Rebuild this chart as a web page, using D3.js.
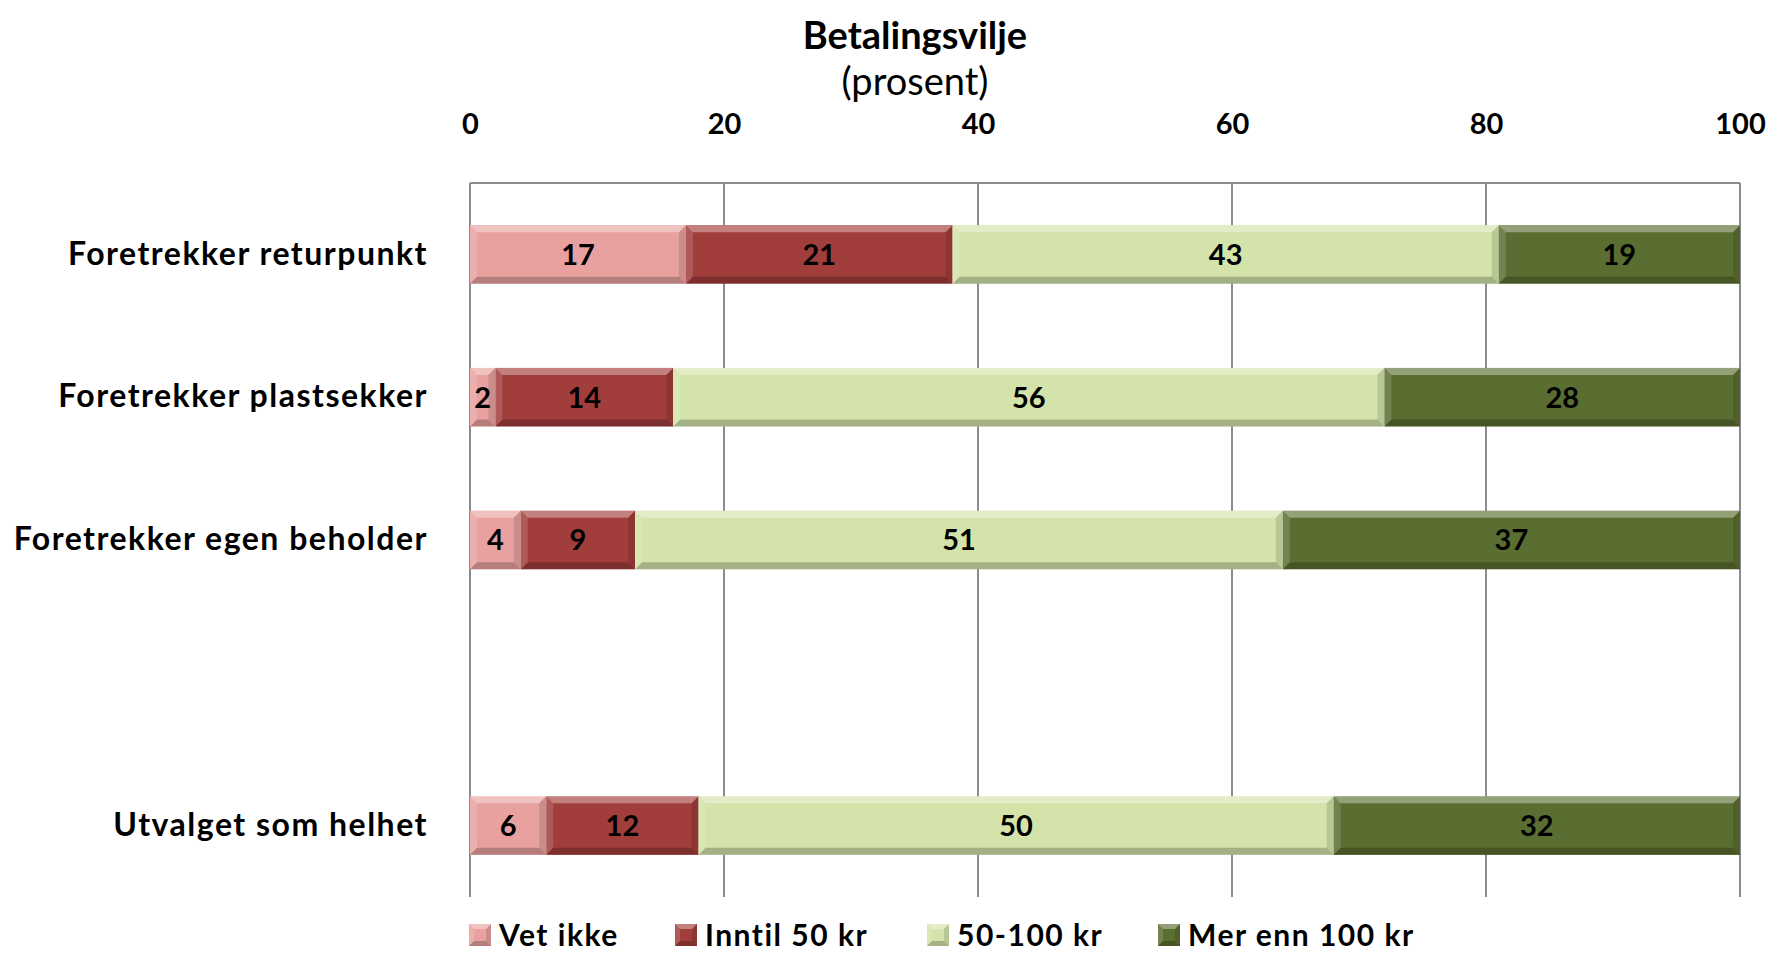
<!DOCTYPE html>
<html>
<head>
	<title>Betalingsvilje</title>
	<script src="https://d3js.org/d3.v7.min.js"></script>
	<style type="text/css">
		body { margin: 0; background: #fff; }
		text { font-family: Lato, "Open Sans", sans-serif; }
	</style>
</head>
<body>
<div id="chart"></div>
<script type="text/javascript">

	// data
	var categories = ["Foretrekker returpunkt", "Foretrekker plastsekker", "Foretrekker egen beholder", "", "Utvalget som helhet"];
	var seriesNames = ["Vet ikke", "Inntil 50 kr", "50-100 kr", "Mer enn 100 kr"];
	var vetIkke = [17, 2, 4, null, 6];
	var inntil50 = [21, 14, 9, null, 12];
	var fra50til100 = [43, 56, 51, null, 50];
	var merEnn100 = [19, 28, 37, null, 32];
	var xTicks = [0, 20, 40, 60, 80, 100];
	var colors = ["#e8a19f", "#a13d3b", "#d3e3a9", "#5b6e31"];

	var width = 1771,
	    height = 954,
	    plotLeft = 470,
	    plotRight = 1740,
	    plotTop = 183,
	    plotBottom = 897;

	var svg = d3.select("#chart")
	    .append("svg")
	    .attr("width", width)
	    .attr("height", height);

	svg.append("defs").append("clipPath")
	    .attr("id", "plotclip")
	    .append("rect")
	    .attr("x", plotLeft)
	    .attr("y", plotTop)
	    .attr("width", plotRight - plotLeft + 1)
	    .attr("height", plotBottom - plotTop);

	var xScale = d3.scaleLinear()
	    .domain([0, 100])
	    .range([plotLeft, plotRight]);

	var yScale = d3.scaleBand()
	    .domain(categories.map((d, i) => i))
	    .range([plotTop, plotBottom])
	    .paddingInner(0.59)
	    .paddingOuter(0.295);

	// gridlines
	svg.append("g")
	    .selectAll("line")
	    .data(xTicks)
	    .enter()
	    .append("line")
	    .attr("x1", d => xScale(d))
	    .attr("x2", d => xScale(d))
	    .attr("y1", plotTop)
	    .attr("y2", plotBottom)
	    .attr("stroke", "#8c8c8c")
	    .attr("stroke-width", 2);

	svg.append("line")
	    .attr("x1", xScale(0))
	    .attr("x2", xScale(100))
	    .attr("y1", plotTop)
	    .attr("y2", plotTop)
	    .attr("stroke", "#8c8c8c")
	    .attr("stroke-width", 2);

	// top axis
	var xAxis = d3.axisTop(xScale).tickValues(xTicks).tickSize(0).tickPadding(0);
	var gX = svg.append("g")
	    .attr("transform", "translate(0,134)")
	    .call(xAxis);
	gX.select(".domain").remove();
	gX.selectAll("text")
	    .attr("font-size", 29)
	    .attr("font-weight", "bold")
	    .attr("fill", "#000")
	    .style("font-family", "Lato, 'Open Sans', sans-serif");

	// category labels
	var yAxis = d3.axisLeft(yScale).tickSize(0).tickPadding(42).tickFormat(i => categories[i]);
	var gY = svg.append("g")
	    .attr("transform", "translate(" + plotLeft + ",0)")
	    .call(yAxis);
	gY.select(".domain").remove();
	gY.selectAll("text")
	    .attr("font-size", 32)
	    .attr("font-weight", "bold")
	    .attr("letter-spacing", 1.5)
	    .attr("fill", "#000")
	    .style("font-family", "Lato, 'Open Sans', sans-serif");

	// stacked data
	var table = categories.map((c, i) => ({
	    i: i,
	    "Vet ikke": vetIkke[i],
	    "Inntil 50 kr": inntil50[i],
	    "50-100 kr": fra50til100[i],
	    "Mer enn 100 kr": merEnn100[i]
	})).filter(d => d["Vet ikke"] != null);

	var stacked = d3.stack().keys(seriesNames)(table);

	var bev = 7;
	function bevel(g, x0, x1, y0, y1) {
	    var b = Math.min(bev, (x1 - x0) / 2);
	    g.append("path")
	        .attr("d", `M${x0},${y0}L${x1},${y0}L${x1 - b},${y0 + bev}L${x0 + b},${y0 + bev}Z`)
	        .attr("fill", "#fff").attr("opacity", 0.35);
	    g.append("path")
	        .attr("d", `M${x0},${y1}L${x1},${y1}L${x1 - b},${y1 - bev}L${x0 + b},${y1 - bev}Z`)
	        .attr("fill", "#000").attr("opacity", 0.22);
	    g.append("path")
	        .attr("d", `M${x0},${y0}L${x0 + b},${y0 + bev}L${x0 + b},${y1 - bev}L${x0},${y1}Z`)
	        .attr("fill", "#fff").attr("opacity", 0.15);
	    g.append("path")
	        .attr("d", `M${x1},${y0}L${x1 - b},${y0 + bev}L${x1 - b},${y1 - bev}L${x1},${y1}Z`)
	        .attr("fill", "#000").attr("opacity", 0.12);
	}

	var layers = svg.append("g")
	    .attr("clip-path", "url(#plotclip)")
	    .selectAll("g")
	    .data(stacked)
	    .enter()
	    .append("g")
	    .attr("fill", (d, k) => colors[k]);

	layers.each(function(layer) {
	    var g = d3.select(this);
	    layer.forEach(function(seg) {
	        var x0 = xScale(seg[0]), x1 = xScale(Math.min(seg[1], 100));
	        var y0 = yScale(seg.data.i), y1 = y0 + yScale.bandwidth();
	        g.append("rect")
	            .attr("x", x0)
	            .attr("y", y0)
	            .attr("width", x1 - x0)
	            .attr("height", y1 - y0);
	        bevel(g, x0, x1, y0, y1);
	        g.append("text")
	            .attr("x", (x0 + x1) / 2)
	            .attr("y", (y0 + y1) / 2)
	            .attr("dy", "0.36em")
	            .attr("text-anchor", "middle")
	            .attr("font-size", 29)
	            .attr("font-weight", "bold")
	            .attr("fill", "#000")
	            .text(seg[1] - seg[0]);
	    });
	});

	// title
	svg.append("text")
	    .attr("x", 915)
	    .attr("y", 49)
	    .attr("text-anchor", "middle")
	    .attr("font-size", 38)
	    .attr("font-weight", "bold")
	    .text("Betalingsvilje");
	svg.append("text")
	    .attr("x", 915)
	    .attr("y", 95)
	    .attr("text-anchor", "middle")
	    .attr("font-size", 38)
	    .text("(prosent)");

	// legend
	var legendX = [469, 675, 927, 1158];
	var legend = svg.append("g")
	    .selectAll("g")
	    .data(seriesNames)
	    .enter()
	    .append("g")
	    .attr("transform", (d, k) => "translate(" + legendX[k] + ",924)");
	legend.append("rect")
	    .attr("width", 22)
	    .attr("height", 22)
	    .attr("fill", (d, k) => colors[k]);
	legend.each(function() {
	    var g = d3.select(this);
	    var save = bev;
	    bev = 5;
	    bevel(g, 0, 22, 0, 22);
	    bev = save;
	});
	legend.append("text")
	    .attr("x", 30)
	    .attr("y", 11)
	    .attr("dy", "0.35em")
	    .attr("font-size", 30)
	    .attr("font-weight", "bold")
	    .attr("letter-spacing", 1.5)
	    .text(d => d);

</script>
</body>
</html>
